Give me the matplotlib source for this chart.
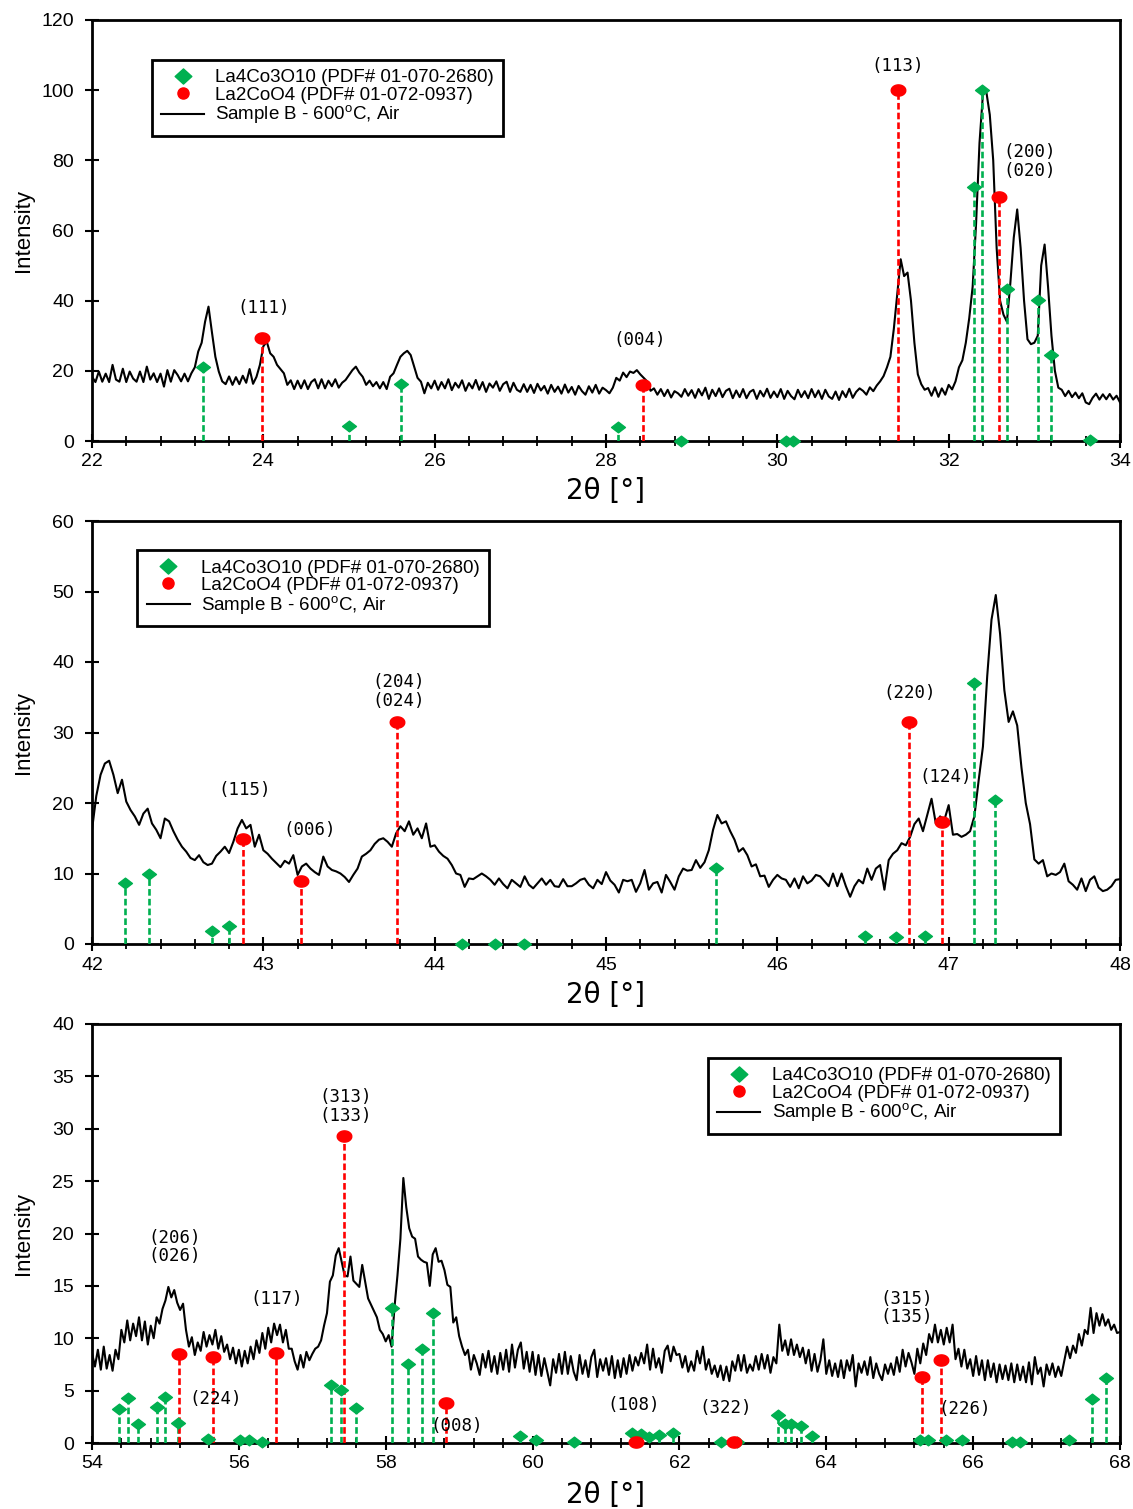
import numpy as np
import matplotlib
matplotlib.use("Agg")
import matplotlib.pyplot as plt
from matplotlib.path import Path
from matplotlib.lines import Line2D
from matplotlib.ticker import MultipleLocator

plt.rcParams["font.family"] = ["Liberation Sans", "DejaVu Sans"]

GREEN = "#00b050"
RED = "#ff0000"

# ---------------- scan 22-34 deg, step 0.04 deg ----------------
scan1_start = 22.0
scan1_step = 0.04
scan1_counts = [
    18.3, 16.8, 19.8, 16.9, 19.2, 16.8, 21.7, 17.5, 16.9, 20.6, 16.8, 19.8, 17.8, 16.9, 19.8, 16.8, 21.2, 17.5, 19.3, 16.8, 19.2, 15.5, 20.2, 16.9, 20.2,
    18.8, 17.0, 19.2, 17.0, 19.3, 21.0, 25.5, 28.0, 34.0, 38.3, 31.0, 24.0, 19.8, 17.0, 16.2, 18.4, 16.0, 18.2, 16.2, 18.6, 16.6, 20.5, 16.3, 18.3, 21.7,
    27.0, 28.3, 25.0, 24.0, 21.7, 20.5, 19.3, 16.0, 17.3, 14.8, 17.2, 15.0, 17.3, 14.8, 16.8, 17.6, 15.0, 17.6, 15.0, 17.2, 15.6, 17.6, 15.2, 16.6, 17.4,
    18.8, 20.2, 21.2, 19.5, 18.3, 16.0, 17.2, 15.6, 16.8, 15.0, 16.8, 14.8, 18.3, 19.3, 21.7, 24.0, 25.0, 25.7, 24.5, 21.2, 18.0, 16.9, 13.6, 16.6, 15.0,
    17.2, 14.6, 16.8, 15.0, 17.6, 14.5, 16.6, 15.2, 17.3, 14.3, 16.5, 15.0, 17.4, 14.6, 16.8, 14.0, 16.4, 15.2, 17.0, 14.3, 16.2, 16.9, 14.0, 16.6, 14.6,
    14.0, 16.2, 14.0, 16.0, 13.7, 16.3, 14.4, 15.7, 13.5, 16.0, 14.0, 15.5, 13.5, 16.1, 13.8, 15.4, 13.2, 15.7, 14.2, 13.2, 15.6, 13.8, 16.0, 13.5, 15.2,
    14.5, 13.6, 15.2, 18.0, 17.2, 19.5, 18.2, 19.8, 19.4, 20.2, 19.0, 18.0, 17.0, 14.3, 15.0, 13.2, 14.8, 12.8, 14.6, 12.4, 14.2, 13.6, 12.6, 14.8, 12.9,
    14.5, 12.3, 14.8, 13.0, 15.2, 12.0, 14.6, 12.8, 15.0, 12.5, 14.3, 14.9, 12.2, 14.4, 12.5, 14.8, 12.2, 14.0, 14.6, 12.0, 14.3, 12.7, 14.9, 12.3, 14.1,
    12.5, 14.8, 12.0, 14.3, 12.8, 11.9, 14.6, 12.5, 14.2, 12.2, 14.8, 12.5, 14.4, 12.0, 14.6, 12.7, 12.0, 14.1, 11.7, 14.2, 12.5, 14.9, 12.3, 14.0, 15.0,
    14.3, 13.2, 15.3, 14.2, 15.8, 17.0, 18.5, 21.0, 24.0, 32.0, 42.0, 51.8, 47.0, 48.0, 40.0, 28.0, 19.0, 16.2, 14.6, 15.1, 12.9, 15.3, 12.6, 15.0, 13.2,
    16.0, 14.7, 17.0, 21.0, 23.0, 28.0, 35.0, 44.0, 62.0, 85.0, 98.9, 99.5, 93.0, 80.0, 55.0, 40.0, 36.0, 34.0, 45.0, 58.0, 66.0, 55.0, 40.0, 29.0, 27.6,
    28.0, 30.0, 50.0, 56.0, 44.0, 30.0, 20.0, 15.2, 14.6, 12.8, 14.3, 12.5, 13.8, 12.2, 13.6, 11.0, 10.5, 12.3, 13.5, 11.8, 13.3, 11.9, 13.4, 11.8, 12.9, 11.0,
]
la4_1_pos = [23.29, 25.00, 25.61, 28.14, 28.87, 30.10, 30.18, 32.30, 32.39, 32.68, 33.04, 33.19, 33.65]
la4_1_int = [21.0, 4.4, 16.2, 4.0, 0.0, 0.0, 0.0, 72.5, 100.0, 43.4, 40.3, 24.4, 0.4]
la2_1_pos = [23.98, 28.43, 31.41, 32.59]
la2_1_int = [29.3, 16.1, 100.0, 69.5]
hkl_1 = [("(111)", 24.0, 37.9), ("(004)", 28.39, 28.8), ("(113)", 31.41, 106.9),
         ("(200)\n(020)", 32.95, 79.7)]

# ---------------- scan 42-48 deg, step 0.025 deg ----------------
scan2_start = 42.0
scan2_step = 0.025
scan2_counts = [
    16.2, 21.0, 24.0, 25.6, 26.0, 24.0, 21.4, 23.3, 20.2, 19.0, 18.1, 16.9, 18.5, 19.2, 17.1, 16.2, 15.0, 17.8, 17.4, 16.0,
    14.8, 13.8, 13.1, 12.2, 11.9, 12.6, 11.6, 11.2, 11.4, 12.5, 13.1, 13.8, 12.9, 14.5, 16.4, 17.6, 16.4, 16.9, 13.8, 15.5,
    13.3, 12.8, 12.1, 11.5, 10.9, 11.8, 11.4, 12.6, 9.8, 11.0, 11.4, 10.7, 10.2, 9.8, 12.4, 11.0, 10.5, 10.3, 10.0, 9.5,
    8.8, 9.8, 10.7, 12.4, 12.8, 13.3, 14.2, 14.8, 15.0, 14.5, 13.8, 15.7, 16.7, 16.0, 17.4, 15.5, 16.4, 15.0, 17.1, 13.8,
    14.0, 13.1, 12.5, 12.1, 11.2, 10.0, 9.8, 8.1, 9.3, 9.2, 9.6, 10.0, 9.6, 9.1, 8.4, 9.3, 8.5, 7.9, 9.1, 8.6,
    8.1, 9.6, 8.4, 7.9, 8.6, 9.3, 8.4, 9.1, 8.2, 8.1, 9.2, 8.2, 8.2, 8.6, 9.1, 9.3, 8.4, 7.9, 9.1, 8.5,
    10.2, 9.0, 8.4, 7.3, 9.1, 8.9, 9.1, 7.4, 8.6, 10.5, 7.7, 8.6, 8.8, 7.3, 9.8, 8.8, 7.7, 9.6, 10.7, 10.4,
    10.5, 11.9, 10.8, 11.6, 13.3, 16.2, 18.3, 17.1, 17.4, 16.0, 14.8, 13.1, 13.6, 12.6, 11.0, 11.3, 9.6, 9.7, 8.1, 9.1,
    9.8, 9.3, 9.1, 8.1, 9.3, 7.9, 9.6, 8.6, 9.0, 9.8, 9.6, 8.9, 8.2, 10.0, 8.2, 10.0, 8.2, 6.7, 8.2, 9.1,
    8.6, 10.7, 9.1, 10.7, 11.2, 7.7, 11.9, 12.8, 13.3, 14.3, 14.0, 15.2, 17.0, 17.8, 16.0, 18.3, 20.6, 17.1, 18.1, 17.6,
    19.7, 15.5, 15.6, 15.2, 15.5, 16.0, 18.1, 23.2, 28.0, 38.0, 46.0, 49.5, 44.0, 36.0, 31.5, 33.0, 31.0, 25.0, 20.0, 17.0,
    12.0, 11.4, 11.9, 9.6, 10.0, 9.8, 10.2, 11.4, 8.9, 8.4, 7.7, 9.3, 7.5, 9.1, 9.6, 8.0, 7.5, 7.7, 8.2, 9.1, 9.2,
]
la4_2_pos = [42.19, 42.33, 42.70, 42.80, 44.16, 44.35, 44.52, 45.64, 46.51, 46.69, 46.86, 47.15, 47.27]
la4_2_int = [8.7, 9.9, 1.8, 2.6, 0.0, 0.0, 0.0, 10.8, 1.1, 1.0, 1.1, 37.0, 20.4]
la2_2_pos = [42.88, 43.22, 43.78, 46.77, 46.96]
la2_2_int = [14.9, 8.9, 31.5, 31.5, 17.3]
hkl_2 = [("(115)", 42.89, 21.8), ("(006)", 43.27, 16.2), ("(204)\n(024)", 43.79, 35.85),
         ("(220)", 46.77, 35.6), ("(124)", 46.98, 23.7)]

# ---------------- scan 54-68 deg, step 0.04 deg ----------------
scan3_start = 54.0
scan3_step = 0.04
scan3_counts = [
    8.6, 7.3, 8.9, 7.0, 9.2, 7.1, 8.4, 6.9, 8.9, 8.0, 10.8, 9.6, 11.7, 9.8, 11.4, 10.2, 12.0, 9.8, 11.6, 9.4, 11.2, 10.0, 12.0, 11.4, 12.8,
    13.6, 14.9, 13.9, 14.6, 13.4, 12.7, 13.3, 10.8, 9.2, 10.1, 8.4, 9.6, 8.8, 10.6, 9.2, 10.3, 9.4, 10.8, 9.0, 10.2, 8.7, 9.4, 8.0, 9.1, 7.6,
    8.9, 7.3, 8.8, 7.6, 9.2, 8.0, 9.8, 8.6, 10.5, 9.0, 11.0, 9.6, 11.4, 10.3, 11.3, 9.6, 10.8, 9.0, 9.0, 7.8, 7.0, 8.4, 7.2, 8.7, 7.9,
    8.5, 9.0, 9.2, 9.8, 11.2, 12.4, 15.4, 16.0, 17.9, 18.6, 17.3, 16.0, 15.9, 17.8, 15.5, 15.2, 14.9, 17.0, 15.4, 13.8, 13.2, 12.6, 12.0, 10.8, 10.4,
    9.7, 10.3, 9.2, 13.0, 16.0, 19.5, 25.3, 22.5, 20.5, 19.7, 19.5, 17.8, 17.5, 17.3, 17.2, 15.0, 18.0, 18.6, 17.3, 17.4, 16.5, 15.1, 14.9, 11.5, 12.0,
    10.2, 9.2, 8.4, 8.9, 7.0, 8.4, 7.6, 6.5, 8.5, 7.2, 8.8, 6.8, 8.3, 6.6, 8.6, 7.0, 8.9, 6.8, 9.4, 7.2, 8.9, 9.6, 7.1, 8.7, 6.8,
    8.7, 6.5, 8.4, 6.4, 8.1, 6.8, 5.5, 8.0, 6.7, 8.5, 6.6, 8.7, 6.6, 8.3, 6.8, 6.0, 8.4, 6.6, 7.9, 6.3, 8.2, 8.9, 6.3, 8.0, 6.9,
    8.1, 6.5, 8.3, 6.2, 7.9, 6.3, 8.1, 6.6, 8.4, 6.9, 8.2, 7.4, 8.6, 7.6, 9.4, 7.0, 9.0, 7.2, 8.1, 6.7, 8.8, 9.3, 7.8, 9.2, 8.4,
    8.5, 7.2, 8.3, 6.8, 7.8, 6.9, 8.8, 7.6, 9.2, 7.0, 8.0, 6.6, 7.4, 6.3, 7.4, 6.0, 7.3, 5.9, 7.8, 6.9, 8.4, 6.9, 8.4, 6.7, 7.5,
    6.9, 8.3, 7.0, 8.5, 7.1, 8.4, 6.7, 8.2, 7.6, 11.3, 8.8, 9.8, 8.4, 9.9, 8.4, 9.4, 8.2, 9.1, 7.6, 8.9, 6.9, 8.5, 6.8, 7.9, 9.9,
    6.6, 7.9, 6.4, 7.6, 6.3, 7.9, 6.2, 7.9, 6.9, 8.4, 5.4, 7.6, 6.7, 7.8, 6.5, 8.2, 6.2, 7.6, 6.6, 6.0, 7.5, 6.6, 7.6, 6.5, 8.2,
    6.8, 8.9, 7.3, 8.6, 7.7, 6.6, 9.0, 7.6, 9.5, 8.4, 10.4, 9.6, 11.3, 9.6, 10.8, 9.4, 11.0, 9.6, 11.3, 8.0, 9.0, 7.3, 8.9, 7.1, 8.0,
    6.4, 8.3, 6.5, 7.9, 6.0, 7.9, 6.3, 7.6, 5.8, 7.5, 6.1, 7.4, 6.0, 7.6, 5.8, 7.5, 6.0, 7.3, 5.8, 7.7, 5.6, 8.2, 6.6, 7.2, 5.4,
    7.5, 6.5, 7.6, 6.3, 7.3, 6.4, 7.8, 9.2, 8.1, 9.3, 8.6, 10.4, 9.3, 10.8, 10.4, 12.9, 10.5, 12.4, 11.2, 12.3, 11.2, 11.8, 10.8, 11.3, 10.5, 10.6,
]
la4_3_pos = [54.37, 54.49, 54.62, 54.88, 54.99, 55.17, 55.58, 56.01, 56.14, 56.31, 57.25, 57.39, 57.60,
             58.09, 58.30, 58.49, 58.65, 59.83, 60.04, 60.56, 61.35, 61.47, 61.59, 61.72, 61.91,
             62.57, 62.78, 63.34, 63.44, 63.52, 63.66, 63.80, 65.28, 65.38, 65.63, 65.85, 66.53,
             66.64, 67.31, 67.62, 67.81]
la4_3_int = [3.2, 4.3, 1.8, 3.4, 4.4, 1.9, 0.4, 0.3, 0.3, 0.1, 5.5, 5.1, 3.3,
             12.9, 7.5, 9.0, 12.4, 0.7, 0.3, 0.1, 1.0, 0.9, 0.6, 0.8, 1.0,
             0.1, 0.1, 2.7, 1.8, 1.8, 1.6, 0.7, 0.3, 0.3, 0.3, 0.3, 0.1,
             0.1, 0.3, 4.2, 6.2]
la2_3_pos = [55.18, 55.65, 56.51, 57.43, 58.82, 61.41, 62.74, 65.30, 65.56]
la2_3_int = [8.5, 8.2, 8.6, 29.3, 3.8, 0.1, 0.1, 6.3, 7.9]
hkl_3 = [("(206)\n(026)", 55.12, 18.7), ("(224)", 55.69, 4.2), ("(117)", 56.51, 13.7),
         ("(313)\n(133)", 57.45, 32.15), ("(008)", 58.97, 1.6), ("(108)", 61.37, 3.6),
         ("(322)", 62.63, 3.3), ("(315)\n(135)", 65.10, 12.9), ("(226)", 65.89, 3.2)]

# Flattened diamond and ellipse markers for the reference patterns
DIAMOND = Path([(0, 1), (1.3, 0), (0, -1), (-1.3, 0), (0, 1)],
               [Path.MOVETO, Path.LINETO, Path.LINETO, Path.LINETO, Path.CLOSEPOLY])
_t = np.linspace(0, 2 * np.pi, 60)
ELLIPSE = Path(np.column_stack([1.3 * np.cos(_t), np.sin(_t)]))
LEG_DIAMOND = Path([(0, 1), (1.1, 0), (0, -1), (-1.1, 0), (0, 1)],
                   [Path.MOVETO, Path.LINETO, Path.LINETO, Path.LINETO, Path.CLOSEPOLY])

STICK_DASH = [(0, (2.5, 1.2))]

fig = plt.figure(figsize=(11.33, 15.09), dpi=100)
W, H = 1133.0, 1509.0


def make_axes(top_px, bottom_px):
    return fig.add_axes([92 / W, 1 - bottom_px / H, (1120 - 92) / W, (bottom_px - top_px) / H])


def draw_panel(ax, start, step, counts, g_pos, g_int, r_pos, r_int, hkl,
               xlim, xmaj, xmin, ylim, ymaj, leg_anchor, xlabel_y, ylabel_x):
    theta = start + step * np.arange(len(counts))
    ax.plot(theta, counts, color="black", lw=1.5, zorder=2)
    ax.vlines(g_pos, 0, g_int, colors=GREEN, linestyles=STICK_DASH, lw=1.9, zorder=3)
    ax.vlines(r_pos, 0, r_int, colors=RED, linestyles=STICK_DASH, lw=1.9, zorder=3)
    ax.plot(g_pos, g_int, ls="none", marker=DIAMOND, ms=10, color=GREEN, mec=GREEN,
            zorder=4, clip_on=False)
    ax.plot(r_pos, r_int, ls="none", marker=ELLIPSE, ms=10.5, color=RED, mec=RED,
            zorder=4, clip_on=False)
    for text, x, y in hkl:
        ax.text(x, y, text, ha="center", va="center", fontsize=12.5,
                family=["DejaVu Sans Mono"], linespacing=1.05, zorder=5)

    ax.set_xlim(*xlim)
    ax.set_ylim(*ylim)
    ax.xaxis.set_major_locator(MultipleLocator(xmaj))
    ax.xaxis.set_minor_locator(MultipleLocator(xmin))
    ax.yaxis.set_major_locator(MultipleLocator(ymaj))
    ax.tick_params(axis="both", which="major", direction="inout", length=10, width=1.5,
                   labelsize=14)
    ax.tick_params(axis="x", which="major", pad=4)
    ax.tick_params(axis="y", which="major", pad=8)
    ax.tick_params(axis="x", which="minor", direction="inout", length=7, width=1.3)
    for sp in ax.spines.values():
        sp.set_linewidth(2.0)

    ax.set_xlabel("2θ [°]", fontsize=20, family=["DejaVu Sans"], va="center")
    ax.xaxis.set_label_coords(0.5, xlabel_y)
    ax.set_ylabel("Intensity", fontsize=16, va="center")
    ax.yaxis.set_label_coords(ylabel_x, 0.5)

    handles = [
        Line2D([], [], ls="none", marker=LEG_DIAMOND, ms=12, color=GREEN, mec=GREEN),
        Line2D([], [], ls="none", marker="o", ms=8, color=RED, mec=RED),
        Line2D([], [], color="black", lw=1.5),
    ]
    labels = ["La4Co3O10 (PDF# 01-070-2680)", "La2CoO4 (PDF# 01-072-0937)",
              "Sample B - 600$^{\\mathregular{o}}$C, Air"]
    leg = ax.legend(handles, labels, loc="upper left", bbox_to_anchor=leg_anchor,
                    fontsize=13.5, frameon=True, fancybox=False, framealpha=1,
                    edgecolor="black", borderpad=0.5, labelspacing=0.0,
                    handlelength=2.3, handletextpad=0.6, borderaxespad=0)
    leg.get_frame().set_linewidth(2.0)
    leg.set_zorder(6)


ax1 = make_axes(20, 441)
draw_panel(ax1, scan1_start, scan1_step, scan1_counts, la4_1_pos, la4_1_int,
           la2_1_pos, la2_1_int, hkl_1, (22, 34), 2, 0.4, (0, 120), 20,
           (0.058, 0.905), -0.119, -0.067)

ax2 = make_axes(521, 944)
draw_panel(ax2, scan2_start, scan2_step, scan2_counts, la4_2_pos, la4_2_int,
           la2_2_pos, la2_2_int, hkl_2, (42, 48), 1, 0.2, (0, 60), 10,
           (0.044, 0.931), -0.121, -0.067)

ax3 = make_axes(1024, 1443)
draw_panel(ax3, scan3_start, scan3_step, scan3_counts, la4_3_pos, la4_3_int,
           la2_3_pos, la2_3_int, hkl_3, (54, 68), 2, 0.4, (0, 40), 5,
           (0.599, 0.919), -0.124, -0.067)

fig.savefig("out.png", dpi=100, facecolor="white")
